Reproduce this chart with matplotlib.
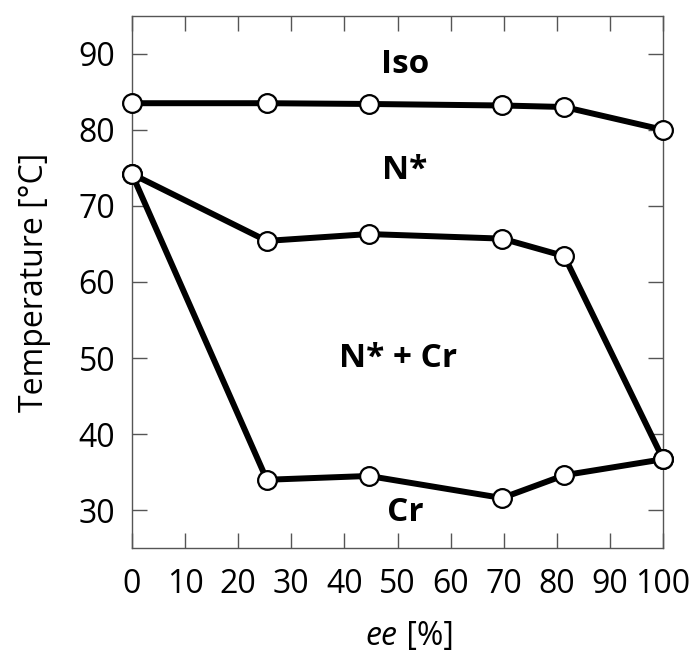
import numpy as np
import matplotlib
matplotlib.use('Agg')
import matplotlib.pyplot as plt

plt.rcParams['font.family'] = ['Open Sans', 'DejaVu Sans']

# ======================================================================
# Data
# ======================================================================
ee_iso = [0, 25.4, 44.6, 69.7, 81.4, 100]
T_iso = [83.5, 83.5, 83.4, 83.2, 83.0, 80.0]

ee_n = [0, 25.4, 44.6, 69.7, 81.4, 100]
T_n = [74.2, 65.4, 66.3, 65.7, 63.4, 36.7]

ee_cr = [0, 25.4, 44.6, 69.7, 81.4, 100]
T_cr = [74.2, 34.0, 34.5, 31.6, 34.6, 36.7]

xticks = [0, 10, 20, 30, 40, 50, 60, 70, 80, 90, 100]
yticks = [30, 40, 50, 60, 70, 80, 90]

phase_labels = ['Iso', 'N*', 'N* + Cr', 'Cr']
phase_x = [51.4, 51.4, 50.1, 51.4]
phase_y = [88.6, 74.7, 50.0, 29.7]

# ======================================================================
# Plot
# ======================================================================
fig = plt.figure(figsize=(6.98, 6.55), dpi=100)
ax = fig.add_axes([0.189, 0.163, 0.761, 0.813])

for xs, ys in [(ee_iso, T_iso), (ee_n, T_n), (ee_cr, T_cr)]:
    ax.plot(xs, ys, color='black', linewidth=4.3, marker='o', markersize=13.5,
            markerfacecolor='white', markeredgecolor='black', markeredgewidth=1.6,
            clip_on=False, zorder=3)

for lab, x, y in zip(phase_labels, phase_x, phase_y):
    ax.text(x, y, lab, ha='center', va='center', fontsize=24, fontweight='bold')

ax.set_xlim(0, 100)
ax.set_ylim(25, 95)
ax.set_xticks(xticks)
ax.set_yticks(yticks)
ax.tick_params(direction='in', length=11, width=1.0, color='#555555',
               labelsize=23, top=True, right=True, labelright=False, labeltop=False,
               pad=12)
ax.tick_params(axis='x', pad=14)
for s in ax.spines.values():
    s.set_color('#555555')
    s.set_linewidth(1.0)

# x label with italic "ee"
fig.text(0.189 + 0.761 / 2, 0.029, 'ee', fontsize=23, style='italic', ha='right', va='center')
fig.text(0.189 + 0.761 / 2, 0.029, ' [%]', fontsize=23, ha='left', va='center')
ax.set_ylabel('Temperature [°C]', fontsize=23, labelpad=20)

fig.savefig('out.png', dpi=100)
